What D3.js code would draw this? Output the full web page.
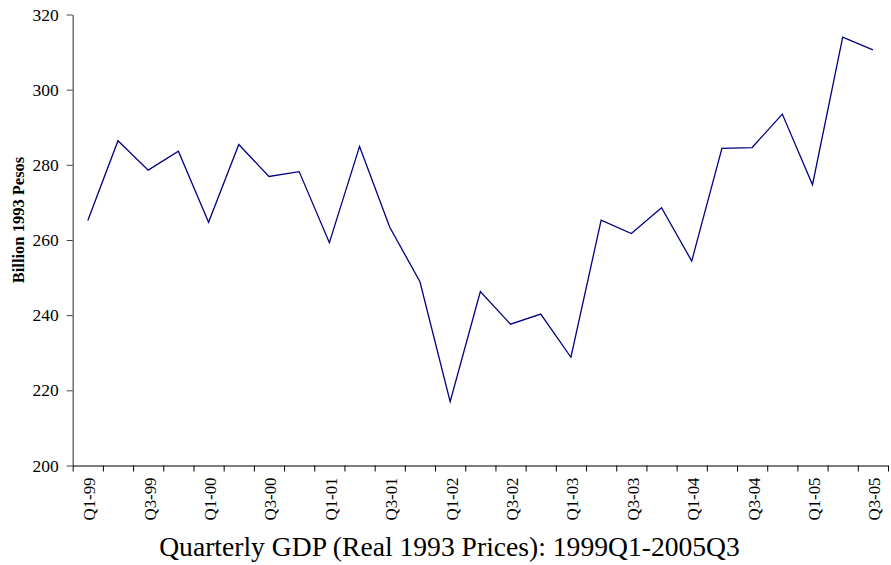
<!DOCTYPE html>
<html>
<head>
<meta charset="utf-8">
<script src="https://cdn.jsdelivr.net/npm/d3@7"></script>
<style>
  body { margin: 0; background: #fff; }
  svg { display: block; font-family: "Liberation Serif", "Times New Roman", serif; }
</style>
</head>
<body>
<svg id="chart" width="891" height="565"></svg>
<script>
// quarters 1999Q1 .. 2005Q3
var quarters = ["Q1-99","Q2-99","Q3-99","Q4-99","Q1-00","Q2-00","Q3-00","Q4-00",
                "Q1-01","Q2-01","Q3-01","Q4-01","Q1-02","Q2-02","Q3-02","Q4-02",
                "Q1-03","Q2-03","Q3-03","Q4-03","Q1-04","Q2-04","Q3-04","Q4-04",
                "Q1-05","Q2-05","Q3-05"];
// GDP, billion 1993 pesos
var gdp = [265.2, 286.4, 278.6, 283.6, 264.7, 285.4, 276.9, 278.2,
           259.3, 284.9, 263.4, 248.9, 217.0, 246.3, 237.6, 240.3,
           228.8, 265.3, 261.7, 268.6, 254.4, 284.4, 284.6, 293.5,
           274.7, 314.0, 310.6];
var yTicks = [200, 220, 240, 260, 280, 300, 320];

var chartTitle = "Quarterly GDP (Real 1993 Prices): 1999Q1-2005Q3";
var yTitle = "Billion 1993 Pesos";

(function() {
  var svg = d3.select("#chart");

  var plotLeft = 72.7, plotRight = 888, plotTop = 14.5, plotBottom = 465.5;

  // category boundaries, excel style: ticks sit between quarters
  var x = d3.scaleLinear()
    .domain([0, quarters.length])
    .range([plotLeft, plotRight]);

  var y = d3.scaleLinear()
    .domain([200, 320])
    .range([plotBottom, plotTop]);

  // y axis
  var yAxis = svg.append("g")
    .attr("class", "y-axis")
    .attr("transform", "translate(" + plotLeft + ",0)")
    .call(d3.axisLeft(y).tickValues(yTicks).tickSize(6).tickPadding(8).tickSizeOuter(0));
  yAxis.select(".domain").attr("stroke", "#666").attr("stroke-width", 1.4);
  yAxis.selectAll(".tick line").attr("stroke", "#444");
  yAxis.selectAll(".tick text")
    .attr("font-family", "Liberation Serif, serif")
    .attr("font-size", 17.5)
    .attr("fill", "#000");

  // x axis
  var xAxis = svg.append("g")
    .attr("class", "x-axis")
    .attr("transform", "translate(0," + plotBottom + ")")
    .call(d3.axisBottom(x).tickValues(d3.range(quarters.length + 1)).tickSize(6).tickFormat("").tickSizeOuter(0));
  xAxis.select(".domain").attr("stroke", "#000").attr("stroke-width", 1.2);
  xAxis.selectAll(".tick line").attr("stroke", "#000");

  // labels on every other quarter, rotated
  svg.append("g")
    .selectAll("text")
    .data(quarters.filter(function(d, i) { return i % 2 === 0; }))
    .enter().append("text")
    .attr("transform", function(d) {
      var i = quarters.indexOf(d);
      return "translate(" + (x(i + 0.5) + 1.5) + "," + (plotBottom + 12) + ") rotate(-90)";
    })
    .attr("text-anchor", "end")
    .attr("dy", "0.35em")
    .attr("font-size", 16.8)
    .text(function(d) { return d; });

  // the line
  var line = d3.line()
    .x(function(d, i) { return x(i + 0.5); })
    .y(function(d) { return y(d); });

  svg.append("path")
    .datum(gdp)
    .attr("fill", "none")
    .attr("stroke", "#000080")
    .attr("stroke-width", 1.3)
    .attr("d", line);

  // y title
  svg.append("text")
    .attr("transform", "translate(18,220) rotate(-90)")
    .attr("text-anchor", "middle")
    .attr("dy", "0.35em")
    .attr("font-weight", "bold")
    .attr("font-size", 16.5)
    .text(yTitle);

  // chart title under the axis
  svg.append("text")
    .attr("x", 449.5)
    .attr("y", 556)
    .attr("text-anchor", "middle")
    .attr("font-size", 27.6)
    .text(chartTitle);
})();
</script>
</body>
</html>
